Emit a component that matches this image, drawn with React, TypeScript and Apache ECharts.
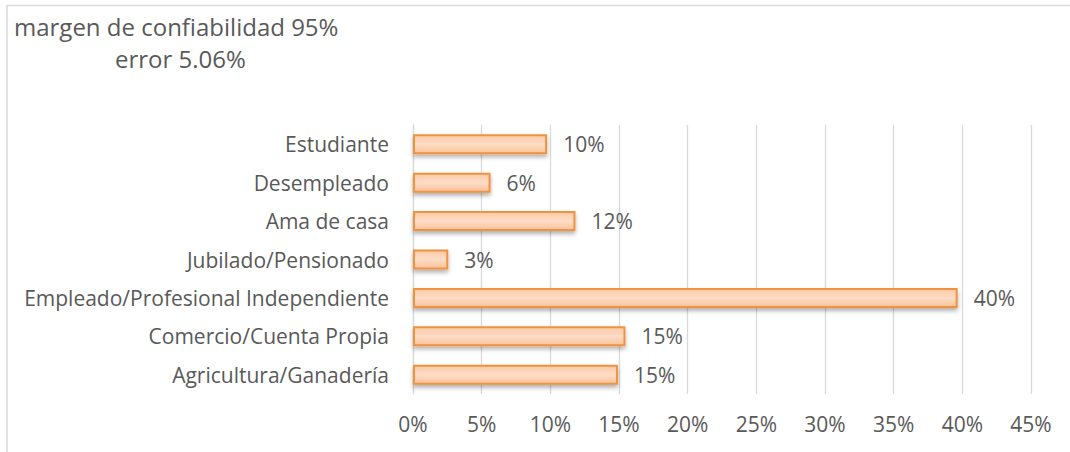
import React, { useEffect, useRef } from "react";
import * as echarts from "echarts";

const categories = [
  "Agricultura/Ganadería",
  "Comercio/Cuenta Propia",
  "Empleado/Profesional Independiente",
  "Jubilado/Pensionado",
  "Ama de casa",
  "Desempleado",
  "Estudiante",
];
const values = [0.1493, 0.1547, 0.3966, 0.0257, 0.1183, 0.0565, 0.0977];
const titleLines = ["margen de confiabilidad 95%", "error 5.06%"];

const FONT = "'Open Sans', sans-serif";
const GRAY = "#595959";

export default function App() {
  const ref = useRef<HTMLDivElement>(null);
  useEffect(() => {
    const chart = echarts.init(ref.current!, null, { renderer: "svg" });
    chart.setOption({
      animation: false,
      backgroundColor: "#ffffff",
      textStyle: { fontFamily: FONT },
      graphic: [
        {
          type: "polyline",
          shape: { points: [[7, 452], [7, 5.5], [1070, 5.5]] },
          style: { stroke: "#d9d9d9", lineWidth: 1.5, fill: null },
          silent: true,
        },
        {
          type: "text",
          left: 14,
          top: 14,
          style: {
            text: titleLines[0],
            fontSize: 24,
            fontFamily: FONT,
            fill: GRAY,
          },
        },
        {
          type: "text",
          left: 115,
          top: 46,
          style: {
            text: titleLines[1],
            fontSize: 24,
            fontFamily: FONT,
            fill: GRAY,
          },
        },
      ],
      grid: { left: 413, right: 39, top: 125, bottom: 58 },
      xAxis: {
        type: "value",
        min: 0,
        max: 0.45,
        interval: 0.05,
        axisLine: { show: false },
        axisTick: { show: false },
        splitLine: { show: true, lineStyle: { color: "#d9d9d9", width: 1.3 } },
        axisLabel: {
          formatter: (v: number) => `${Math.round(v * 100)}%`,
          color: GRAY,
          fontSize: 21,
          fontFamily: FONT,
          margin: 19,
        },
      },
      yAxis: {
        type: "category",
        data: categories,
        axisLine: { show: true, lineStyle: { color: "#d9d9d9", width: 1.3 } },
        axisTick: { show: false },
        axisLabel: {
          color: GRAY,
          fontSize: 21,
          fontFamily: FONT,
          margin: 24,
        },
      },
      series: [
        {
          type: "bar",
          data: values,
          barCategoryGap: "48%",
          itemStyle: {
            color: new echarts.graphic.LinearGradient(0, 0, 0, 1, [
              { offset: 0, color: "#fccaa6" },
              { offset: 0.5, color: "#fddcc6" },
              { offset: 1, color: "#fbc29a" },
            ]),
            borderColor: "#f0923f",
            borderWidth: 2,
            shadowColor: "rgba(0,0,0,0.3)",
            shadowBlur: 4,
            shadowOffsetY: 3,
          },
          label: {
            show: true,
            position: "right",
            distance: 16,
            color: GRAY,
            fontSize: 21,
            fontFamily: FONT,
            formatter: (p: any) => `${Math.round(p.value * 100)}%`,
          },
        },
      ],
    });
    return () => chart.dispose();
  }, []);
  return <div ref={ref} style={{ width: 1070, height: 452, position: "absolute", left: 0, top: 0 }} />;
}
